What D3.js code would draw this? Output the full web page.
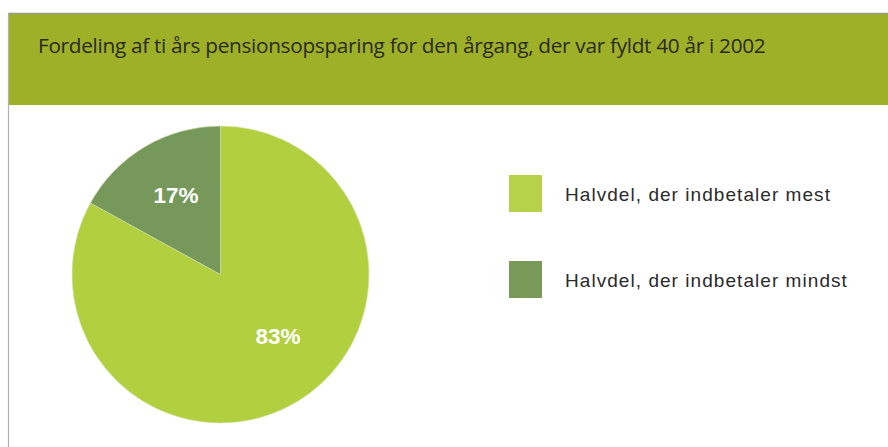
<!DOCTYPE html>
<html>
<head>
<meta charset="utf-8">
<script src="https://cdn.jsdelivr.net/npm/d3@7"></script>
<style>
  html, body { margin: 0; padding: 0; background: #fff; }
  svg { display: block; }
</style>
</head>
<body>
<div class="chart-area"></div>
<script>
// ---- Data ----
const title = "Fordeling af ti års pensionsopsparing for den årgang, der var fyldt 40 år i 2002";
const categories = ["Halvdel, der indbetaler mest", "Halvdel, der indbetaler mindst"];
const shares = [83, 17];
const sliceLabels = ["83%", "17%"];
const colors = ["#b1cf3e", "#76995b"];
const legendColors = ["#b6d24b", "#7a9a5a"];

// ---- Sizes ----
const svgWidth = 888;
const svgHeight = 447;
const pieCx = 220.5, pieCy = 274.5, pieR = 148.5;

const svg = d3.select(".chart-area").append("svg")
    .attr("width", svgWidth)
    .attr("height", svgHeight);

// header band + frame
svg.append("rect")
    .attr("x", 8).attr("y", 13)
    .attr("width", svgWidth - 8).attr("height", 92)
    .attr("fill", "#9db027");
svg.append("line")
    .attr("x1", 8).attr("x2", svgWidth)
    .attr("y1", 13.5).attr("y2", 13.5)
    .attr("stroke", "#9a9a8a").attr("stroke-width", 1.5);
svg.append("line")
    .attr("x1", 8.5).attr("x2", 8.5)
    .attr("y1", 13).attr("y2", svgHeight)
    .attr("stroke", "#b0b0b0").attr("stroke-width", 1.2);

const titleText = svg.append("text")
    .attr("x", 38).attr("y", 52.5)
    .attr("fill", "#2a2a22")
    .style("font-family", "'Open Sans', 'Noto Sans', sans-serif")
    .style("font-size", "20px")
    .style("letter-spacing", "-0.3px")
    .text(title);
// fit title to reference width
const tw = titleText.node().getComputedTextLength();
titleText.style("font-size", (20 * 727 / tw) + "px");

// ---- Pie ----
const pie = d3.pie().sort(null).value(d => d)
    .startAngle(0).endAngle(2 * Math.PI);
const arcs = pie(shares);
const arc = d3.arc().innerRadius(0).outerRadius(pieR);

const pieGroup = svg.append("g")
    .attr("transform", `translate(${pieCx}, ${pieCy})`);

pieGroup.selectAll("path")
    .data(arcs)
    .join("path")
    .attr("d", arc)
    .attr("fill", (d, i) => colors[i])
    .attr("stroke", "#d8e6b0")
    .attr("stroke-width", 0.6);

// slice labels
const labelPos = [[57.5, 69], [-44.5, -71.5]];
pieGroup.selectAll("text.slice")
    .data(arcs)
    .join("text")
    .attr("class", "slice")
    .attr("x", (d, i) => labelPos[i][0])
    .attr("y", (d, i) => labelPos[i][1])
    .attr("text-anchor", "middle")
    .attr("fill", "#fff")
    .style("font-family", "'Liberation Sans', Arial, sans-serif")
    .style("font-weight", "bold")
    .style("font-size", "22.5px")
    .text((d, i) => sliceLabels[i]);

// ---- Legend ----
const legendY = d3.scalePoint().domain(categories).range([175, 261]);
const legend = svg.append("g");

legend.selectAll("rect")
    .data(categories)
    .join("rect")
    .attr("x", 509)
    .attr("y", d => legendY(d))
    .attr("width", 33)
    .attr("height", 37)
    .attr("fill", (d, i) => legendColors[i]);

const legendText = legend.selectAll("text")
    .data(categories)
    .join("text")
    .attr("x", 565)
    .attr("y", d => legendY(d) + 26)
    .attr("fill", "#2b2b2b")
    .style("font-family", "'Liberation Sans', Arial, sans-serif")
    .style("font-size", "19px")
    .text(d => d);

// spread legend text to the reference width (first entry ~266px)
const lw = legendText.node().getComputedTextLength();
const ls = (266 - lw) / categories[0].length;
legendText.style("letter-spacing", ls + "px");
</script>
</body>
</html>
